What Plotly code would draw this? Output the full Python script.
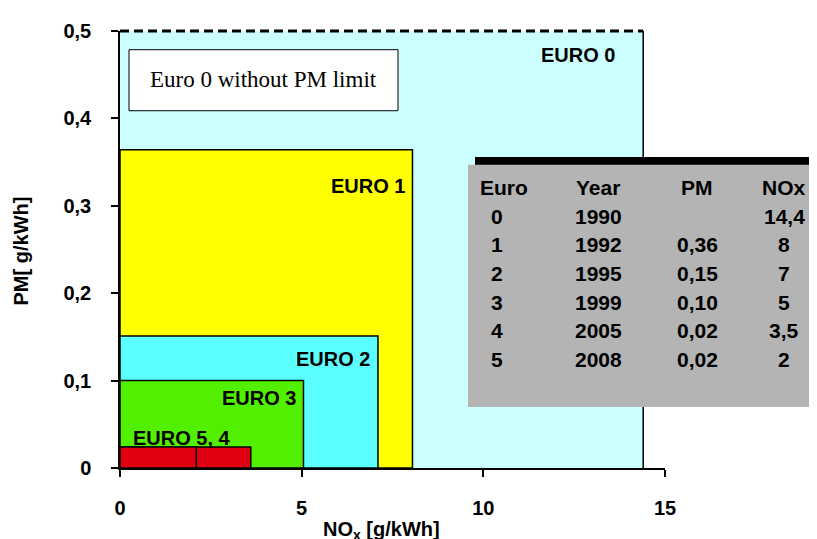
import plotly.graph_objects as go

# ---- data ----
euro_labels = ["EURO 0", "EURO 1", "EURO 2", "EURO 3", "EURO 4", "EURO 5"]
nox_limit = [14.4, 8.05, 7.1, 5.05, 3.6, 2.1]      # drawn NOx extents [g/kWh]
pm_limit = [0.5, 0.364, 0.151, 0.1, 0.024, 0.024]  # drawn PM extents [g/kWh]
fill_colors = ["#CCFFFF", "#FFFF00", "#5CFFFF", "#52F000", "#E00012", "#E00012"]

table_header = ["Euro", "Year", "PM", "NOx"]
table_euro = ["0", "1", "2", "3", "4", "5"]
table_year = ["1990", "1992", "1995", "1999", "2005", "2008"]
table_pm = ["", "0,36", "0,15", "0,10", "0,02", "0,02"]
table_nox = ["14,4", "8", "7", "5", "3,5", "2"]

x_range = [0, 15]
y_range = [0, 0.5]
x_ticks = [0, 5, 10, 15]
x_ticktext = ["0", "5", "10", "15"]
y_ticks = [0, 0.1, 0.2, 0.3, 0.4, 0.5]
y_ticktext = ["0", "0,1", "0,2", "0,3", "0,4", "0,5"]

# ---- layout geometry (target pixels; page body has an 8px margin) ----
OFF = 8
W, H = 817 - OFF, 539 - OFF
L, R, T, B = 120 - OFF, 665 - OFF, 24 - OFF, 468 - OFF


def px(x):
    return (x - OFF - L) / (R - L)


def py(y):
    return (B - (y - OFF)) / (B - T)


FONT = "Liberation Sans, Arial, sans-serif"
fig = go.Figure()

shapes = []
# Euro 0 area (fill only) and right edge line
shapes.append(dict(type="rect", xref="x", yref="y", x0=0, x1=nox_limit[0], y0=0, y1=pm_limit[0],
                   fillcolor=fill_colors[0], line=dict(width=0), layer="below"))
shapes.append(dict(type="line", xref="x", yref="y", x0=nox_limit[0], x1=nox_limit[0], y0=0, y1=pm_limit[0],
                   line=dict(color="black", width=1.5)))
for i in range(1, len(nox_limit)):
    shapes.append(dict(type="rect", xref="x", yref="y", x0=0, x1=nox_limit[i], y0=0, y1=pm_limit[i],
                       fillcolor=fill_colors[i], line=dict(color="black", width=1.5), layer="below"))

# dashed top of Euro 0 (no PM limit), in paper units so it is not clipped at the plot edge
shapes.append(dict(type="line", xref="paper", yref="paper",
                   x0=(0 - x_range[0]) / (x_range[1] - x_range[0]),
                   x1=(nox_limit[0] - x_range[0]) / (x_range[1] - x_range[0]),
                   y0=(pm_limit[0] - y_range[0]) / (y_range[1] - y_range[0]),
                   y1=(pm_limit[0] - y_range[0]) / (y_range[1] - y_range[0]),
                   line=dict(color="black", width=3, dash="9px,5px")))

# note box
shapes.append(dict(type="rect", xref="paper", yref="paper", x0=px(129), x1=px(398), y0=py(105), y1=py(43),
                   fillcolor="white", line=dict(color="black", width=1)))
# table: black shadow bar + gray panel
shapes.append(dict(type="rect", xref="paper", yref="paper", x0=px(475), x1=px(830), y0=py(161), y1=py(152),
                   fillcolor="black", line=dict(width=0)))
shapes.append(dict(type="rect", xref="paper", yref="paper", x0=px(468), x1=px(830), y0=py(406), y1=py(160),
                   fillcolor="#B4B4B4", line=dict(width=0)))

annotations = []


def ann(text, x, y, size=17, xanchor="center", family=FONT, bold=True, angle=0):
    annotations.append(dict(text=("<b>%s</b>" % text) if bold else text, xref="paper", yref="paper",
                            x=px(x), y=py(y), xanchor=xanchor, yanchor="middle", showarrow=False,
                            textangle=angle, font=dict(family=family, size=size, color="black")))


ann("Euro 0 without PM limit", 263, 73, size=23, family="Liberation Serif, Times New Roman, serif", bold=False)
ann(euro_labels[0], 578, 48, size=20)
ann(euro_labels[1], 407, 181, size=20, xanchor="right")
ann(euro_labels[2], 372, 357, size=20, xanchor="right")
ann(euro_labels[3], 298, 397, size=20, xanchor="right")
ann("EURO 5, 4", 131, 438, size=20, xanchor="left")

# table text
col_x = [497, 598, 697, 784]
ann(table_header[0], 478, 183, size=21, xanchor="left")
for j in range(1, 4):
    ann(table_header[j], col_x[j], 183, size=21)
row_y0, row_dy = 212, 29.2
for i in range(len(table_euro)):
    yy = row_y0 + i * row_dy
    ann(table_euro[i], col_x[0], yy, size=21)
    ann(table_year[i], col_x[1], yy, size=21)
    if table_pm[i]:
        ann(table_pm[i], col_x[2], yy, size=21)
    ann(table_nox[i], col_x[3], yy, size=21)

# axis titles
ann("PM[ g/kWh]", 21, 248, size=20, angle=-90)
ann("NO<sub>x</sub> [g/kWh]", 381, 531, size=20)

fig.add_trace(go.Scatter(x=[0], y=[0], mode="markers", marker=dict(opacity=0), hoverinfo="skip",
                         showlegend=False))

fig.update_layout(
    width=W, height=H,
    margin=dict(l=L, r=W - R, t=T, b=H - B, pad=0),
    paper_bgcolor="white", plot_bgcolor="rgba(0,0,0,0)",
    shapes=shapes, annotations=annotations, showlegend=False,
    xaxis=dict(range=x_range, tickvals=x_ticks, ticktext=x_ticktext, showgrid=False, zeroline=False,
               showline=True, linecolor="black", linewidth=1.5, ticks="outside", ticklen=7,
               tickcolor="black", tickwidth=1.5, ticklabelstandoff=14,
               tickfont=dict(family=FONT, size=20, color="black", weight="bold")),
    yaxis=dict(range=y_range, tickvals=y_ticks, ticktext=y_ticktext, showgrid=False, zeroline=False,
               showline=True, linecolor="black", linewidth=1.5, ticks="outside", ticklen=7,
               tickcolor="black", tickwidth=1.5, ticklabelstandoff=16,
               tickfont=dict(family=FONT, size=20, color="black", weight="bold")),
)

fig.write_html("out.html")
